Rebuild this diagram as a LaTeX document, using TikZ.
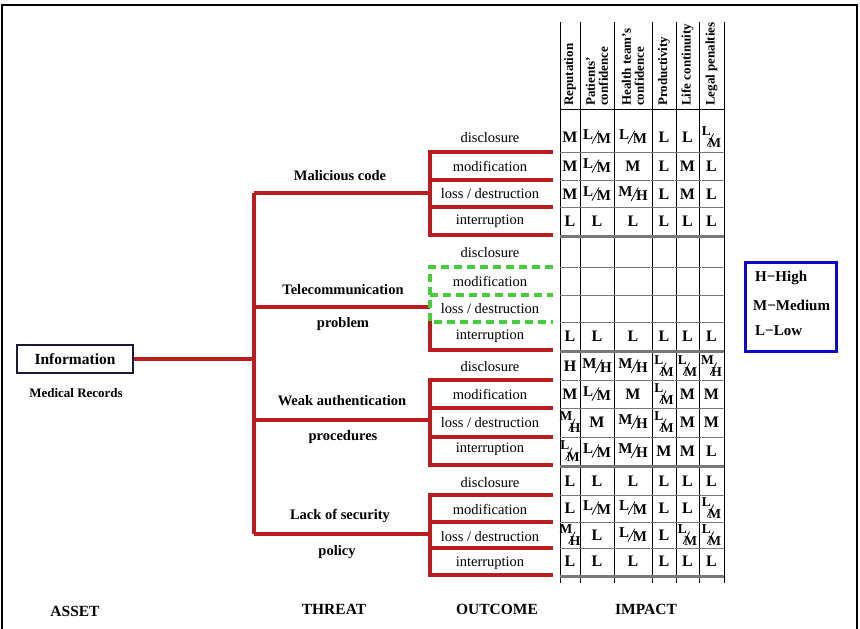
\documentclass[tikz,border=0pt]{standalone}
\usepackage{fontspec}
\usepackage{graphicx}
\setmainfont{Liberation Serif}
\definecolor{bred}{RGB}{186,28,32}
\definecolor{bgreen}{RGB}{70,205,60}
\definecolor{lblue}{RGB}{10,10,200}
\definecolor{navy}{RGB}{25,25,60}
\definecolor{rule}{RGB}{120,120,120}
% text size in pt (1pt = 1 unit of the picture)
\newcommand\fsz[1]{\fontsize{#1}{#1}\selectfont}
% thin slanted stroke between two ratings
\newcommand\slantbar[1]{\rotatebox{62}{\rule{#1}{0.7pt}}}
% side-by-side rating pair, e.g. L/M
\newcommand\wf[2]{{\fsz{15}\raisebox{1.5pt}{#1}\kern-1.5pt\raisebox{-2.5pt}{\slantbar{15pt}}\kern-2.5pt\raisebox{-2.5pt}{#2}}}
% stacked rating pair for the narrow columns
\newcommand\nf[2]{{\fsz{13.5}\raisebox{6.5pt}{#1}\kern-4pt\raisebox{-4.5pt}{\slantbar{14pt}}\kern-5.5pt\raisebox{-6pt}{#2}}}
% one row of six impact ratings
\newcommand\cellrow[8]{%
  \node[cellv] (#1a) at (570,#2) {#3};
  \node[cellv] (#1b) at (597,#2) {#4};
  \node[cellv] (#1c) at (633,#2) {#5};
  \node[cellv] (#1d) at (664,#2) {#6};
  \node[cellv] (#1e) at (687.5,#2) {#7};
  \node[cellv] (#1f) at (711.5,#2) {#8};}
\begin{document}
\begin{tikzpicture}[x=1pt,y=-1pt,
  redline/.style={draw=bred,line width=3.8pt,line join=miter},
  greendash/.style={draw=bgreen,line width=3.6pt,dash pattern=on 8pt off 5pt},
  outc/.style={inner sep=0pt,font=\fsz{14.5}},
  threat/.style={inner sep=0pt,font=\fsz{14.5}\bfseries},
  cellv/.style={inner sep=0pt,font=\fsz{16}\bfseries},
  hdr/.style={rotate=90,anchor=west,inner sep=0pt,align=left,font=\fsz{13}\bfseries},
  legend/.style={anchor=west,inner sep=0pt,font=\fsz{15}\bfseries},
  axis/.style={inner sep=0pt,font=\fsz{15.5}\bfseries}]
\useasboundingbox (0,0) rectangle (860,629);
\fill[white] (0,0) rectangle (860,629);
% outer frame
\draw[line width=1.6pt] (2,629) -- (2,5) -- (857,5) -- (857,629);

% asset
\node[draw=navy,line width=2pt,minimum width=116pt,minimum height=28pt,inner sep=0pt,
      font=\fsz{15.5}\bfseries] (info) at (75,359) {Information};
\node[inner sep=0pt,font=\fsz{13}\bfseries] (medrec) at (76,393) {Medical Records};

% threat tree
\coordinate (trunkIn) at (254,359);
\coordinate (t1) at (254,193);
\coordinate (t2) at (254,307);
\coordinate (t3) at (254,420);
\coordinate (t4) at (254,534);
\coordinate (b1) at (430,193);
\coordinate (b2) at (430,307);
\coordinate (b3) at (430,420);
\coordinate (b4) at (430,534);
\draw[redline] (info.east) -- (trunkIn);
\draw[redline] (t1) -- (t4);
\draw[redline] (t1) -- (b1);
\draw[redline] (t2) -- (b2);
\draw[redline] (t3) -- (b3);
\draw[redline] (t4) -- (b4);

\node[threat] (th1) at (340,176) {Malicious code};
\node[threat] (th2a) at (343,290) {Telecommunication};
\node[threat] (th2b) at (343,324) {problem};
\node[threat] (th3a) at (342,401) {Weak authentication};
\node[threat] (th3b) at (343,437) {procedures};
\node[threat] (th4a) at (340,516) {Lack of security};
\node[threat] (th4b) at (337,552) {policy};

% outcome brackets
\draw[redline] (553,152) -- (430,152) -- (430,235) -- (553,235);
\draw[redline] (430,180) -- (553,180);
\draw[redline] (430,207) -- (553,207);

\draw[greendash] (553,267) -- (430,267) -- (430,322) -- (553,322);
\draw[greendash] (430,295) -- (553,295);
\draw[redline] (430,321) -- (430,350) -- (553,350);

\draw[redline] (553,380) -- (430,380) -- (430,465) -- (553,465);
\draw[redline] (430,408) -- (553,408);
\draw[redline] (430,437) -- (553,437);

\draw[redline] (553,495) -- (430,495) -- (430,575) -- (553,575);
\draw[redline] (430,522) -- (553,522);
\draw[redline] (430,548) -- (553,548);

% outcome labels
\foreach \g/\ya/\yb/\yc/\yd in {1/138/166/194/221, 2/253/281/309/336, 3/367/394/423/449, 4/483/509/537/563}{
  \node[outc] (o\g a) at (490,\ya) {disclosure};
  \node[outc] (o\g b) at (490,\yb) {modification};
  \node[outc] (o\g c) at (490,\yc) {loss / destruction};
  \node[outc] (o\g d) at (490,\yd) {interruption};
}

% impact table: column rules
\foreach \x in {560,580,614,652,676,699,724}
  \draw[line width=0.9pt] (\x,22) -- (\x,583);
\draw[line width=1pt] (560,109) -- (724,109);
\foreach \y in {152,180,207,267,295,322,380,408,437,495,522,548}
  \draw[rule,line width=1pt] (560,\y) -- (724,\y);
\foreach \y in {236.5,351.5,466,576.5}
  \draw[rule,line width=3pt] (560,\y) -- (724,\y);

% column headings
\node[hdr] (h1) at (570,106) {Reputation};
\node[hdr] (h2) at (597,106) {Patients'\\confidence};
\node[hdr] (h3) at (633,106) {Health team's\\confidence};
\node[hdr] (h4) at (664,106) {Productivity};
\node[hdr] (h5) at (687.5,106) {Life continuity};
\node[hdr] (h6) at (711.5,106) {Legal penalties};

% ratings
\cellrow{r1}{137}{M}{\wf{L}{M}}{\wf{L}{M}}{L}{L}{\nf{L}{M}}
\cellrow{r2}{166}{M}{\wf{L}{M}}{M}{L}{M}{L}
\cellrow{r3}{194}{M}{\wf{L}{M}}{\wf{M}{H}}{L}{M}{L}
\cellrow{r4}{221}{L}{L}{L}{L}{L}{L}
\cellrow{r8}{336}{L}{L}{L}{L}{L}{L}
\cellrow{r9}{366}{H}{\wf{M}{H}}{\wf{M}{H}}{\nf{L}{M}}{\nf{L}{M}}{\nf{M}{H}}
\cellrow{r10}{394}{M}{\wf{L}{M}}{M}{\nf{L}{M}}{M}{M}
\cellrow{r11}{422}{\nf{M}{H}}{M}{\wf{M}{H}}{\nf{L}{M}}{M}{M}
\cellrow{r12}{451}{\nf{L}{M}}{\wf{L}{M}}{\wf{M}{H}}{M}{M}{L}
\cellrow{r13}{481}{L}{L}{L}{L}{L}{L}
\cellrow{r14}{508}{L}{\wf{L}{M}}{\wf{L}{M}}{L}{L}{\nf{L}{M}}
\cellrow{r15}{535}{\nf{M}{H}}{L}{\wf{L}{M}}{L}{\nf{L}{M}}{\nf{L}{M}}
\cellrow{r16}{561}{L}{L}{L}{L}{L}{L}

% legend
\node[draw=lblue,line width=3pt,minimum width=91pt,minimum height=89pt,inner sep=0pt] (key) at (790.5,306.5) {};
\node[legend] (kh) at (755,278) {H−High};
\node[legend] (km) at (753,305) {M−Medium};
\node[legend] (kl) at (755,331) {L−Low};

% axis captions
\node[axis] (cap1) at (75,611) {ASSET};
\node[axis] (cap2) at (334,609) {THREAT};
\node[axis] (cap3) at (497,609) {OUTCOME};
\node[axis] (cap4) at (646,609) {IMPACT};
\end{tikzpicture}
\end{document}
